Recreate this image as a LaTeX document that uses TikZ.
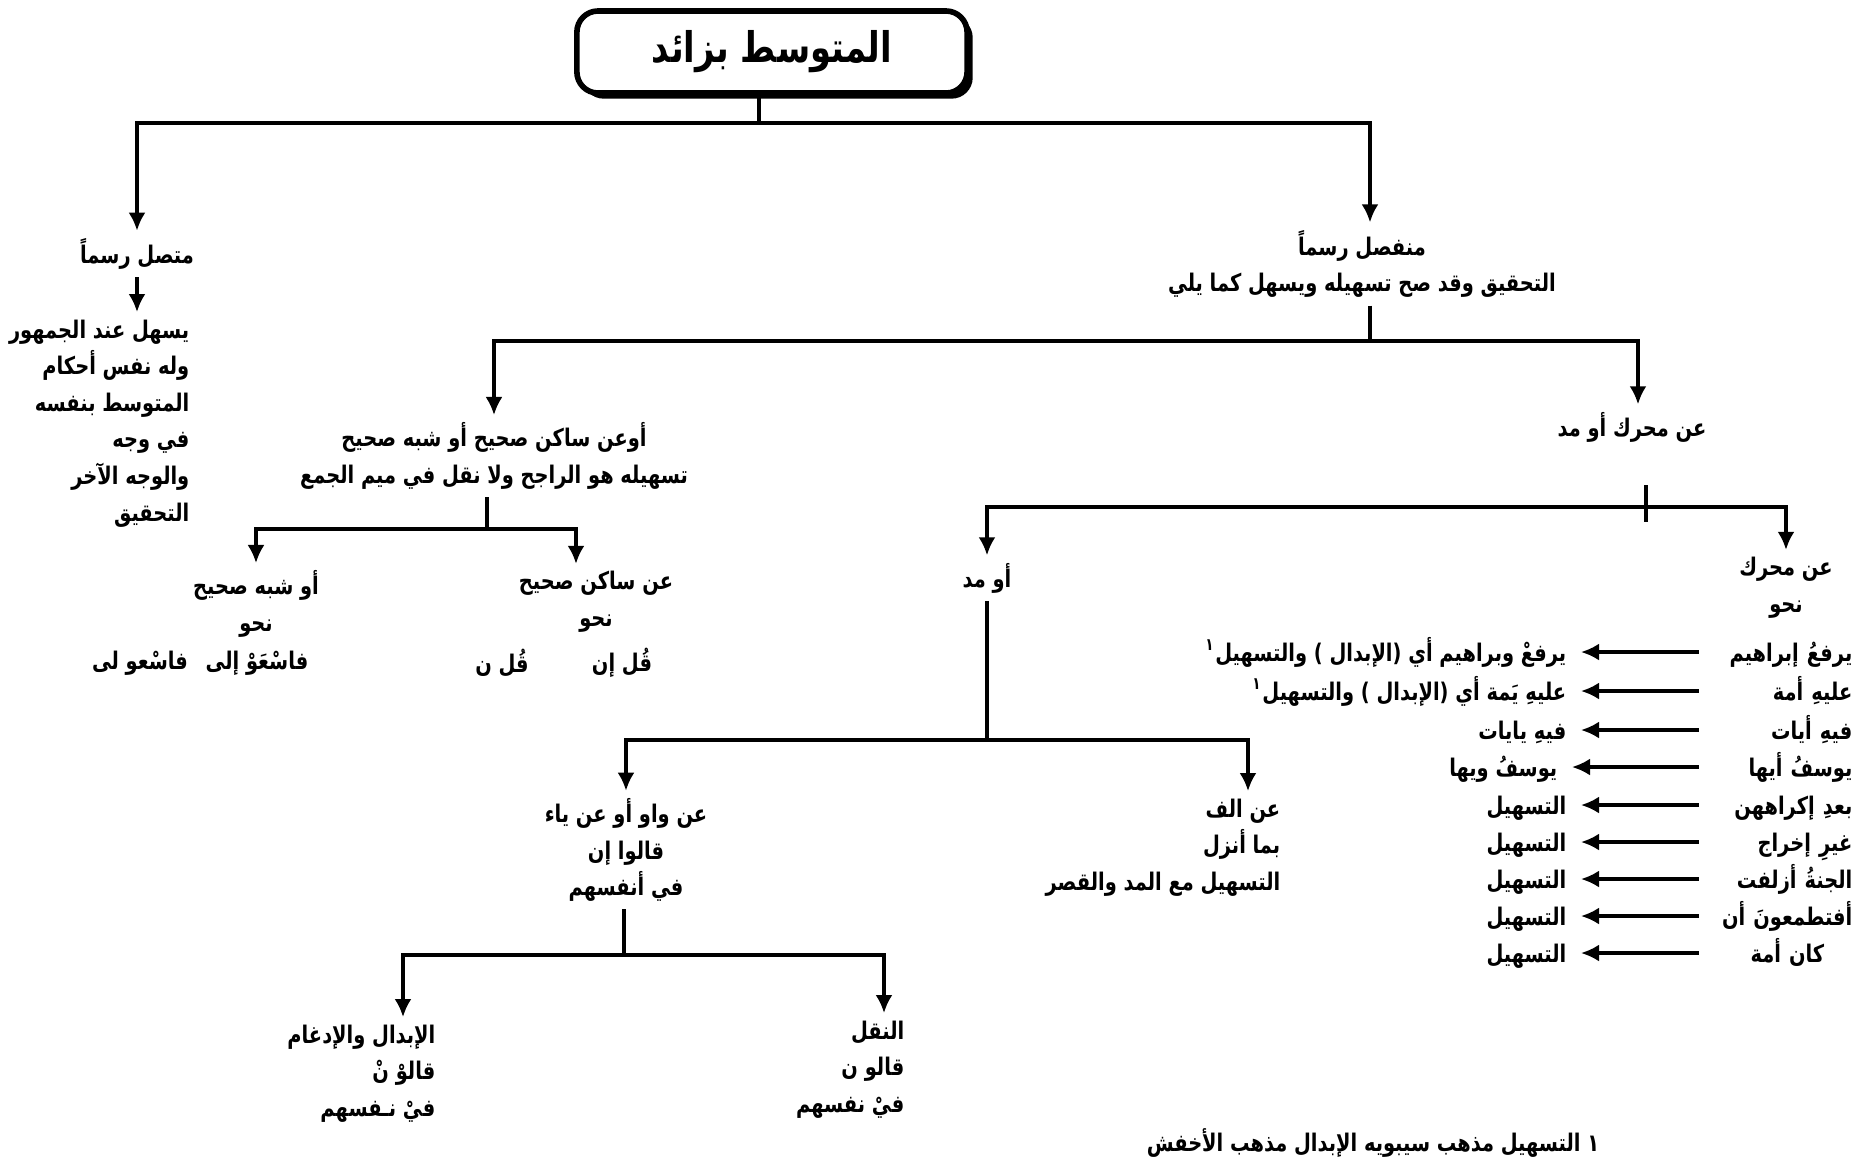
\documentclass[tikz,border=0pt]{standalone}
\usepackage{fontspec}
\usetikzlibrary{arrows.meta, positioning, calc, shadows}
\newfontfamily\arabicfont[Script=Arabic, FakeStretch=0.8]{DejaVu Sans}
\TeXXeTstate=1
\newcommand{\AR}[1]{\beginR #1\endR}
\tikzset{
  >=Latex,
  lbl/.style={
    font=\fontsize{6.9}{10.4}\arabicfont\bfseries, align=center, inner sep=2pt
  },
  titlebox/.style={
    draw, fill=white, line width=1.6pt, rounded corners=6pt,
    minimum width=3.9cm, minimum height=0.82cm,
    font=\fontsize{12}{14}\arabicfont\bfseries,
    drop shadow={shadow xshift=1.6pt, shadow yshift=-1.6pt, fill=black, opacity=1}
  },
  colsrc/.style={
    lbl, anchor=east, inner sep=0pt, text width=1.53cm, align=right,
    text height=1.9ex, text depth=0.7ex
  },
  colres/.style={
    lbl, anchor=east, inner ysep=0pt, inner xsep=4pt,
    text height=1.9ex, text depth=0.7ex
  },
  line/.style={line width=0.9pt},
  arr/.style={line, -{Latex[length=1.8mm,width=1.7mm]}}
}
\begin{document}
\begin{tikzpicture}[x=0.01cm, y=-0.01cm]
  \useasboundingbox[fill=white] (0,0) rectangle (1871,1159);

  % top
  \node[titlebox] (title) at (772,52) {\AR{المتوسط بزائد}};
  \coordinate (j0) at (759,123);
  \draw[line] (title.south -| j0) -- (j0);

  \node[lbl] (mutt) at (137,254) {\AR{متصل رسماً}};
  \node[lbl, align=right, anchor=north east] (rule) at (197,312)
    {\AR{يسهل عند الجمهور}\\\AR{وله نفس أحكام}\\\AR{المتوسط بنفسه}\\
     \AR{في وجه}\\\AR{والوجه الآخر}\\\AR{التحقيق}};
  \node[lbl] (munf) at (1362,264)
    {\AR{منفصل رسماً}\\\AR{التحقيق وقد صح تسهيله ويسهل كما يلي}};
  \draw[arr] (j0) -| (mutt.north);
  \draw[arr] (j0) -| ($(munf.north)+(8,0)$);
  \draw[arr] (mutt.south) -- (mutt.south |- rule.north);

  % munfasil
  \coordinate (j1) at (1370,341);
  \node[lbl] (sakin) at (494,456)
    {\AR{أوعن ساكن صحيح أو شبه صحيح}\\\AR{تسهيله هو الراجح ولا نقل في ميم الجمع}};
  \node[lbl] (muh) at (1632,427) {\AR{عن محرك أو مد}};
  \draw[line] (munf.south -| j1) -- (j1);
  \draw[arr] (j1) -| (sakin.north);
  \draw[arr] (j1) -| ($(muh.north)+(6,0)$);

  % sakin
  \coordinate (j2) at (487,529);
  \node[lbl] (shibh) at (256,604) {\AR{أو شبه صحيح}\\\AR{نحو}};
  \node[lbl] (sahih) at (596,602) {\AR{عن ساكن صحيح}\\\AR{نحو}};
  \node[lbl] (sh1) at (257,663) {\AR{فاسْعَوْ إلى}};
  \node[lbl] (sh2) at (140,663) {\AR{فاسْعو لى}};
  \node[lbl] (sa1) at (622,663) {\AR{قُل إن}};
  \node[lbl] (sa2) at (502,663) {\AR{قُل ن}};
  \draw[line] (sakin.south -| j2) -- (j2);
  \draw[arr] (j2) -| (shibh.north);
  \draw[arr] (j2) -| ($(sahih.north)+(-20,0)$);

  % muharrik
  \coordinate (j3) at (1646,507);
  \node[lbl] (awmadd) at (987,578) {\AR{أو مد}};
  \node[lbl] (anmuh) at (1786,588) {\AR{عن محرك}\\\AR{نحو}};
  \draw[line] ($(j3)+(0,-22)$) -- ($(j3)+(0,15)$);
  \draw[arr] (j3) -| (awmadd.north);
  \draw[arr] (j3) -| (anmuh.north);

  \node[colsrc] (s1) at (1853,652) {\AR{يرفعُ إبراهيم}};
  \node[colsrc] (s2) at (1853,691) {\AR{عليهِ أمة}};
  \node[colsrc] (s3) at (1853,730) {\AR{فيهِ أيات}};
  \node[colsrc] (s4) at (1853,767) {\AR{يوسفُ أيها}};
  \node[colsrc] (s5) at (1853,805) {\AR{بعدِ إكراههن}};
  \node[colsrc] (s6) at (1853,842) {\AR{غيرِ إخراج}};
  \node[colsrc] (s7) at (1853,879) {\AR{الجنةُ أزلفت}};
  \node[colsrc] (s8) at (1853,916) {\AR{أفتطمعونَ أن}};
  \node[colsrc] (s9) at (1853,953) {\AR{كان أمة}\rule{0.28cm}{0pt}};
  \node[colres] (r1) at (1581,652) {\AR{يرفعْ وبراهيم أي (الإبدال ) والتسهيل\textsuperscript{١}}};
  \node[colres] (r2) at (1581,691) {\AR{عليهِ يَمة أي (الإبدال ) والتسهيل\textsuperscript{١}}};
  \node[colres] (r3) at (1581,730) {\AR{فيهِ يايات}};
  \node[colres] (r4) at (1572,767) {\AR{يوسفُ ويها}};
  \node[colres] (r5) at (1581,805) {\AR{التسهيل}};
  \node[colres] (r6) at (1581,842) {\AR{التسهيل}};
  \node[colres] (r7) at (1581,879) {\AR{التسهيل}};
  \node[colres] (r8) at (1581,916) {\AR{التسهيل}};
  \node[colres] (r9) at (1581,953) {\AR{التسهيل}};
  \foreach \i in {1,...,9}
    \draw[arr] (s\i.west) -- (s\i.west -| r\i.east);

  % aw madd
  \coordinate (j5) at (987,740);
  \node[lbl] (wawya) at (626,850)
    {\AR{عن واو أو عن ياء}\\\AR{قالوا إن}\\\AR{في أنفسهم}};
  \node[lbl, align=right, anchor=north east] (alif) at (1288,791)
    {\AR{عن الف}\\\AR{بما أنزل}\\\AR{التسهيل مع المد والقصر}};
  \draw[line] (awmadd.south -| j5) -- (j5);
  \draw[arr] (j5) -| (wawya.north);
  \draw[arr] (j5) -| ($(alif.north east)+(-40,0)$);

  % waw ya
  \coordinate (j6) at (624,955);
  \node[lbl, align=right, anchor=north east] (ibdal) at (443,1017)
    {\AR{الإبدال والإدغام}\\\AR{قالوْ نْ}\\\AR{فيْ نـفسهم}};
  \node[lbl, align=right, anchor=north east] (naql) at (912,1013)
    {\AR{النقل}\\\AR{قالو ن}\\\AR{فيْ نفسهم}};
  \draw[line] (wawya.south -| j6) -- (j6);
  \draw[arr] (j6) -| ($(ibdal.north east)+(-40,0)$);
  \draw[arr] (j6) -| ($(naql.north east)+(-28,0)$);

  \node[lbl] (note) at (1373,1143) {\AR{١ التسهيل مذهب سيبويه الإبدال مذهب الأخفش}};
\end{tikzpicture}
\end{document}
